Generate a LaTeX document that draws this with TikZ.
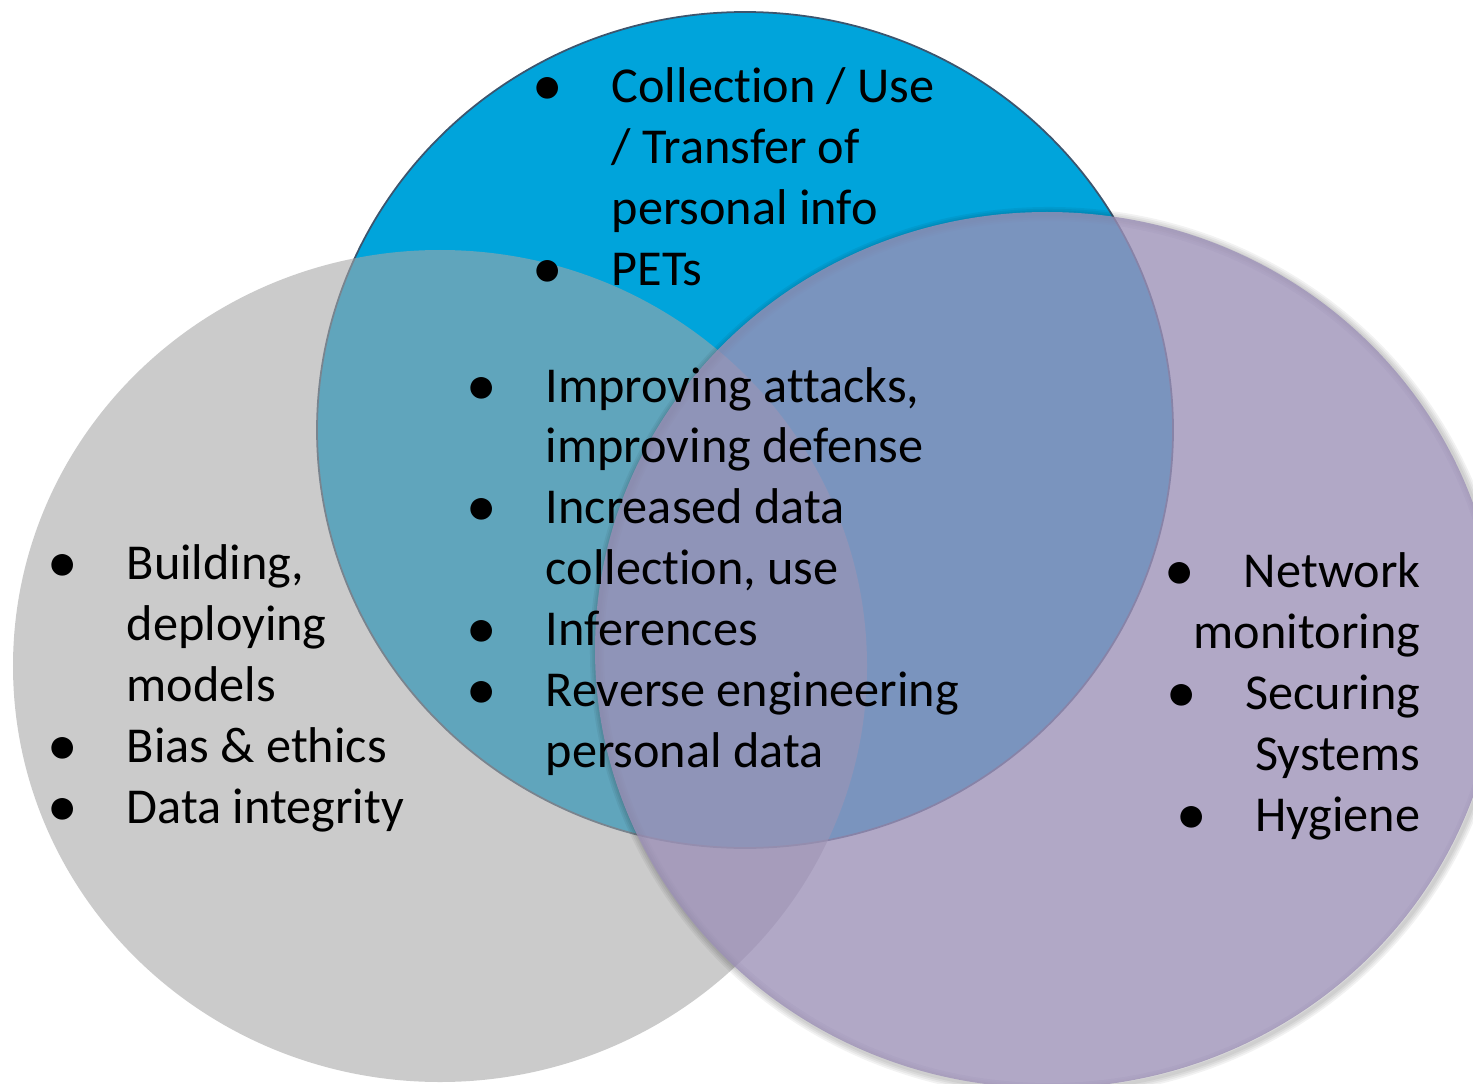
\documentclass[tikz,border=0pt]{standalone}
\usepackage{fontspec}
\setmainfont{Carlito}[Ligatures={NoCommon}]
\newfontfamily\bulletfont{Liberation Sans}
\usetikzlibrary{positioning}

\definecolor{privblue}{RGB}{0,164,219}
\definecolor{privline}{RGB}{60,85,110}
\definecolor{mlgray}{RGB}{166,166,166}
\definecolor{secpurple}{RGB}{156,144,183}

% bullet centred on the line start, text one tab further
\newlength\bltgap
\setlength\bltgap{0.64cm}
\newcommand\blt{\makebox[0pt]{\bulletfont ●}\hspace{\bltgap}}
\newcommand\tabin{\hspace*{\bltgap}}

\begin{document}
\begin{tikzpicture}[
  font=\fontsize{14.3}{17.3}\selectfont,
  % lists are pinned at the baseline of their last line
  list/.style={inner sep=0pt, align=left, anchor=base west},
  rlist/.style={inner sep=0pt, align=right, anchor=base east},
]
\useasboundingbox (0,0) rectangle (14.73,-10.83);
\clip (0,0) rectangle (14.73,-10.83);

%% the three sets
\filldraw[fill=privblue, draw=privline, line width=0.5pt]
  (7.45,-4.30) ellipse [x radius=4.28cm, y radius=4.18cm];
\fill[mlgray, fill opacity=0.58]
  (4.40,-6.66) ellipse [x radius=4.27cm, y radius=4.16cm];
% soft shadow round the security set
\foreach \w in {1,...,4}
  \draw[black, draw opacity=0.05, line width=\w pt]
    (10.49,-6.52) ellipse [x radius=4.52cm, y radius=4.38cm];
\fill[secpurple, fill opacity=0.79]
  (10.47,-6.50) ellipse [x radius=4.52cm, y radius=4.38cm];

%% Privacy
\node[list] (privacy) at (5.47,-2.85) {%
  \blt Collection / Use\\
  \tabin / Transfer of\\
  \tabin personal info\\
  \blt PETs};
%% Overlap
\node[list] (overlap) at (4.81,-7.67) {%
  \blt Improving attacks,\\
  \tabin improving defense\\
  \blt Increased data\\
  \tabin collection, use\\
  \blt Inferences\\
  \blt Reverse engineering\\
  \tabin personal data};
%% Machine learning
\node[list] (ml) at (0.62,-8.23) {%
  \blt Building,\\
  \tabin deploying\\
  \tabin models\\
  \blt Bias \& ethics\\
  \blt Data integrity};
%% Security
\node[rlist] (security) at (14.21,-8.31) {%
  \blt Network\\
  monitoring\\
  \blt Securing\\
  Systems\\
  \blt Hygiene};
\end{tikzpicture}
\end{document}
